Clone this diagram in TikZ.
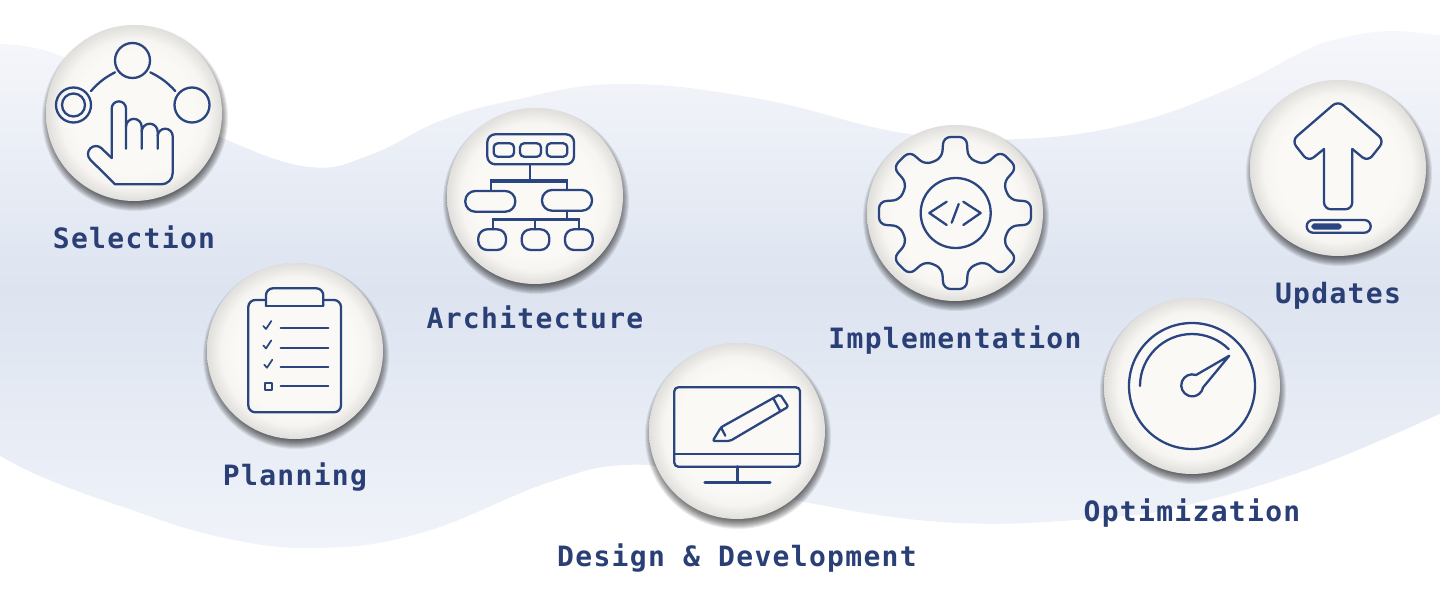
\documentclass[tikz,border=0pt]{standalone}
\usepackage{fontspec}
\setmonofont[LetterSpace=4.7]{DejaVu Sans Mono}
\definecolor{navy}{HTML}{2B4580}
\definecolor{labelnavy}{HTML}{2A3F75}
\definecolor{wavetop}{HTML}{F6F7FB}
\definecolor{wavemid}{HTML}{DDE4F0}
\definecolor{wavebot}{HTML}{F0F3F9}
\definecolor{ballin}{HTML}{FAF9F6}
\definecolor{ballmid}{HTML}{F6F5F2}
\definecolor{ballout}{HTML}{E0DFDC}
\pgfdeclareradialshading{ballshade}{\pgfpointorigin}{%
  color(0bp)=(ballin); color(17bp)=(ballin); color(21bp)=(ballmid);
  color(25bp)=(ballout); color(50bp)=(ballout)}
\tikzset{
  ball/.style={circle,minimum size=176pt,inner sep=0pt,shading=ballshade},
  steplabel/.style={font=\ttfamily\bfseries\fontsize{28}{28}\selectfont,text=labelnavy,inner sep=0pt,anchor=base},
  icon/.style={draw=navy,line width=2.3pt,line cap=round,line join=round},
  bus/.style={icon,line width=3.4pt,line cap=butt}
}
\begin{document}
\begin{tikzpicture}[x=1pt,y=-1pt]
\useasboundingbox (0,0) rectangle (1440,600);

% wave in the back
\shade[top color=wavetop,bottom color=wavebot,middle color=wavemid]
  plot[smooth,tension=.7] coordinates {(-10,44) (53,53) (150,100) (227,140) (310,167) (370,155) (440,121) (510,101) (620,84) (760,99) (903,133) (1020,139) (1133,123) (1233,87) (1300,53) (1333,40) (1390,31) (1450,37)}
  -- plot[smooth,tension=.7] coordinates {(1450,409) (1320,465) (1188,505) (1100,518) (960,523) (820,505) (700,475) (625,465) (547,483) (421,533) (316,548) (220,537) (126,508) (42,477) (-10,450)}
  -- cycle;

% soft shadows, then balls and labels
\foreach \px/\py in {134/113,295/351,535/196,737/431,955/213,1192/386,1338/168} {
  \foreach \r in {83,84,...,93} {
    \fill[black,opacity=.08] (\px+1,\py+5) circle[radius=\r];
  }
}
\foreach \name/\px/\py/\ly/\txt in {
  selection/134/113/248/Selection,
  planning/295/351/485/Planning,
  architecture/535/196/328/Architecture,
  design/737/431/566/Design \& Development,
  implementation/955/213/348/Implementation,
  optimization/1192/386/521/Optimization,
  updates/1338/168/303/Updates} {
  \node[ball] (\name) at (\px,\py) {};
  \node[steplabel] (\name-label) at (\px,\ly) {\txt};
}

% selection
\begin{scope}[shift={(selection.center)}]
\draw[icon] (-1.5,-52.5) circle[radius=17.5];
\draw[icon] (-60.5,-8) circle[radius=17.5];
\draw[icon] (-60.5,-8) circle[radius=11.5];
\draw[icon] (58,-8) circle[radius=17.5];
\draw[icon] (-43,-22) to[bend left=10] (-19,-40.7);
\draw[icon] (16.3,-40.7) to[bend left=10] (41.3,-22);
\draw[icon] (-22.3,45) -- (-22.3,-4.5) arc[start angle=180,end angle=360,radius=7.15] -- (-8,35.7);
\draw[icon] (-8,13.7) arc[start angle=180,end angle=360,radius=7.85] -- (7.7,35.7);
\draw[icon] (7.7,18.7) arc[start angle=180,end angle=360,radius=8] -- (23.7,35.7);
\draw[icon] (23.7,23.2) arc[start angle=180,end angle=360,radius=7.5] -- (38.7,60) arc[start angle=0,end angle=90,radius=11.3] -- (-19,71.3) -- (-43.7,46.7) arc[start angle=135,end angle=310,radius=8] -- (-22.3,45);
\end{scope}

% planning
\begin{scope}[shift={(planning.center)}]
\draw[icon,rounded corners=7pt] (-29,-51) -- (-46.7,-51) -- (-46.7,61.3) -- (46,61.3) -- (46,-51) -- (28.3,-51);
\draw[icon,rounded corners=7pt] (-29,-45.3) -- (-29,-62.7) -- (28.3,-62.7) -- (28.3,-45.3);
\draw[icon] (-29,-45.3) -- (28.3,-45.3);
\foreach \ry/\cx in {-22.7/0,-3.3/0,16/1} {
  \draw[icon] (-14.3,\ry) -- (33.3,\ry);
  \draw[icon,line width=1.7pt] (-31.7+\cx,\ry-2.3) -- (-29+\cx,\ry+.7) -- (-23.7+\cx,\ry-7.3);
}
\draw[icon] (-14.3,35.3) -- (33.3,35.3);
\draw[icon,line width=1.7pt] (-30.3,32) rectangle (-23.3,39);
\end{scope}

% architecture
\begin{scope}[shift={(architecture.center)}]
\draw[icon,rounded corners=8pt] (-47.7,-61.7) rectangle (39,-31.7);
\foreach \xa/\xb in {-41.3/-21,-15/6,11.7/32.3} {
  \draw[icon,rounded corners=4pt] (\xa,-52.7) rectangle (\xb,-39.3);
}
\draw[icon,rounded corners=10pt] (-69.7,-5) rectangle (-19.7,15.7);
\draw[icon,rounded corners=10pt] (7,-6) rectangle (57,14.7);
\draw[icon] (-5,-31.7) -- (-5,-15);
\draw[icon] (-44.3,-15) -- (-44.3,-5);
\draw[icon] (31.7,-15) -- (31.7,-6);
\draw[bus] (-45.3,-15) -- (32.7,-15);
\draw[icon] (31.7,14.7) -- (31.7,23.3);
\draw[bus] (-43,23.3) -- (45.3,23.3);
\foreach \dx/\xa/\xb in {-42/-56.7/-29,.3/-13.3/14.3,44.3/30/57.7} {
  \draw[icon] (\dx,23.3) -- (\dx,33.3);
  \draw[icon,rounded corners=9pt] (\xa,33.3) rectangle (\xb,54);
}
\end{scope}

% design
\begin{scope}[shift={(design.center)}]
\draw[icon,rounded corners=4pt] (-62.7,-43.7) rectangle (63,35.7);
\draw[icon] (-62.7,23) -- (63,23);
\draw[icon,line width=3pt] (0,35.7) -- (0,50.7);
\draw[icon,line width=3.4pt] (-32,51.3) -- (33,51.3);
\draw[icon,rounded corners=2pt] (-24.3,10) -- (-16,-3.7) -- (43,-36.7) -- (51.3,-24.3) -- (-7,10) -- cycle;
\draw[icon] (36.3,-32.7) -- (43,-20.3);
\draw[icon] (-16,-3.7) -- (-11.7,4.7);
\end{scope}

% implementation
\begin{scope}[shift={(implementation.center)}]
\draw[icon,rounded corners=7pt] (55,-13)
  \foreach \k in {0,...,6} {
    -- ([rotate=-\k*45]76,-11.5) -- ([rotate=-\k*45]76,11.5) -- ([rotate=-\k*45]55,13) -- ([rotate=-\k*45-45]55,-13)
  } -- ([rotate=-315]76,-11.5) -- ([rotate=-315]76,11.5) -- ([rotate=-315]55,13) -- cycle;
\draw[icon] (.7,0) circle[radius=35];
\draw[icon] (-8.3,-11.3) -- (-25.7,0) -- (-8.3,12);
\draw[icon] (8.3,-11.3) -- (25.7,0) -- (8.3,12);
\draw[icon] (3.7,-9) -- (-3.3,9.7);
\end{scope}

% optimization
\begin{scope}[shift={(optimization.center)}]
\draw[icon] (0,0) circle[radius=63];
\draw[icon] (-52,0) arc[start angle=180,end angle=315,radius=52];
\draw[icon] (37.3,-30.3) -- (4,-11) arc[start angle=290,end angle=11,radius=11] -- cycle;
\end{scope}

% updates
\begin{scope}[shift={(updates.center)}]
\draw[icon,rounded corners=7pt] (-14,-19) -- (-29.7,-6.3) -- (-46.3,-27.3) -- (0,-67.3) -- (46.3,-27.3) -- (29.7,-6.3) -- (14.3,-19);
\draw[icon,rounded corners=7pt] (-14,-19) -- (-14,41.3) -- (14.3,41.3) -- (14.3,-19);
\draw[icon,rounded corners=6.3pt] (-31.3,52) rectangle (32.7,64.7);
\draw[icon,fill=navy,rounded corners=1.8pt] (-25.5,56.5) rectangle (2.5,60.5);
\end{scope}
\end{tikzpicture}
\end{document}
